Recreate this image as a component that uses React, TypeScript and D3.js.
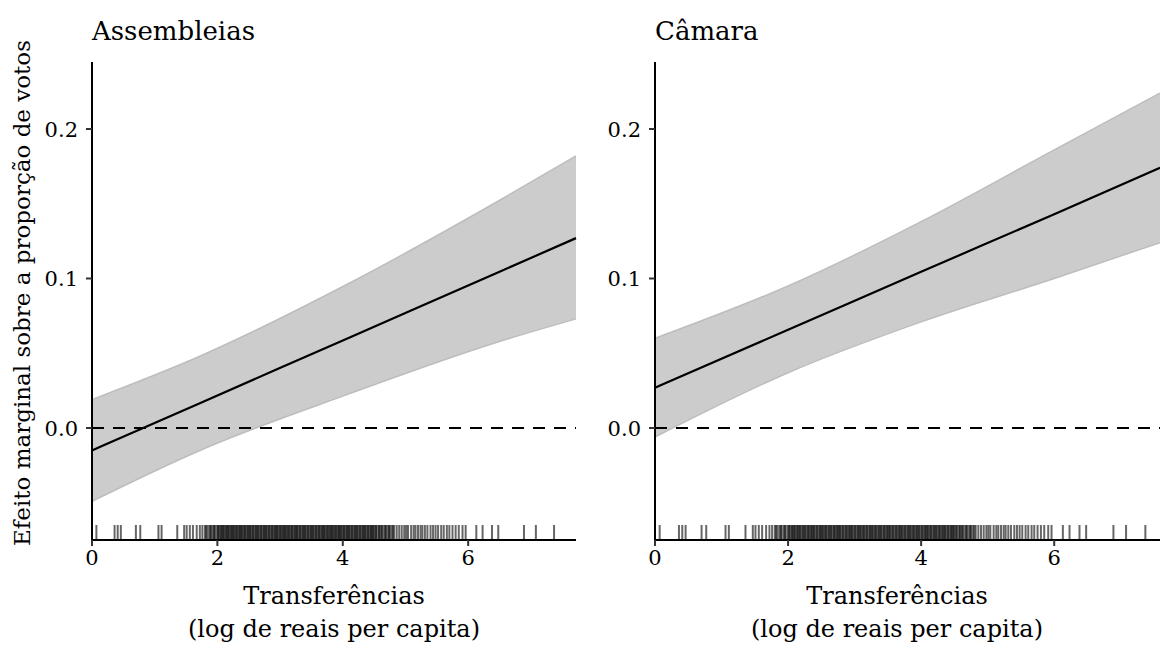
import React from 'react'
import * as d3 from 'd3'

// marginal effect estimates
const leftX = [0, 1.72, 4.11, 6.51, 7.72]
const leftFit = [-0.015, 0.0166, 0.0606, 0.1047, 0.127]
const leftUpper = [0.019, 0.048, 0.097, 0.1525, 0.182]
const leftLower = [-0.049, -0.015, 0.023, 0.058, 0.073]

const rightX = [0, 2, 4, 6, 7.59]
const rightFit = [0.027, 0.0657, 0.1045, 0.143, 0.174]
const rightUpper = [0.06, 0.095, 0.138, 0.186, 0.224]
const rightLower = [-0.006, 0.037, 0.071, 0.1, 0.124]

const yTicks = [0, 0.1, 0.2]
const xTicks = [0, 2, 4, 6]

// observed transfers (rug)
const rugX = [0.07, 0.36, 0.41, 0.46, 0.70, 0.77, 1.06, 1.11, 1.36, 1.47, 1.51, 1.56, 1.61, 1.67, 1.72, 1.76, 1.80, 1.84, 1.87, 1.90, 1.93, 1.96, 1.99, 2.02, 2.04, 2.07, 2.10, 2.12, 2.15, 2.18, 2.20, 2.23, 2.26, 2.28, 2.31, 2.33, 2.36, 2.39, 2.41, 2.44, 2.46, 2.49, 2.52, 2.54, 2.57, 2.59, 2.62, 2.65, 2.67, 2.70, 2.72, 2.75, 2.78, 2.80, 2.83, 2.85, 2.88, 2.90, 2.93, 2.96, 2.98, 3.01, 3.03, 3.06, 3.09, 3.11, 3.14, 3.16, 3.19, 3.21, 3.24, 3.27, 3.29, 3.32, 3.34, 3.37, 3.40, 3.42, 3.45, 3.47, 3.50, 3.53, 3.55, 3.58, 3.60, 3.63, 3.65, 3.68, 3.71, 3.73, 3.76, 3.78, 3.81, 3.84, 3.86, 3.89, 3.91, 3.94, 3.97, 3.99, 4.02, 4.04, 4.07, 4.10, 4.12, 4.15, 4.17, 4.20, 4.23, 4.25, 4.28, 4.30, 4.33, 4.36, 4.38, 4.41, 4.43, 4.46, 4.49, 4.51, 4.54, 4.57, 4.60, 4.63, 4.66, 4.69, 4.72, 4.75, 4.78, 4.82, 4.86, 4.90, 4.94, 4.98, 5.01, 5.04, 5.09, 5.13, 5.16, 5.20, 5.24, 5.27, 5.31, 5.35, 5.40, 5.44, 5.48, 5.52, 5.57, 5.61, 5.66, 5.70, 5.75, 5.80, 5.85, 5.91, 5.96, 6.13, 6.23, 6.38, 6.48, 6.89, 7.08, 7.37,
    1.82, 1.89, 1.95, 2.01, 2.06, 2.09, 2.14, 2.17, 2.22, 2.25, 2.30, 2.35, 2.38, 2.43, 2.48, 2.51, 2.56, 2.61, 2.64, 2.69, 2.74, 2.77, 2.82, 2.87, 2.92, 2.95, 3.00, 3.05, 3.08, 3.13, 3.18, 3.23, 3.26, 3.31, 3.36, 3.39, 3.44, 3.49, 3.52, 3.57, 3.62, 3.67, 3.70, 3.75, 3.80, 3.83, 3.88, 3.93, 3.96, 4.01, 4.06, 4.09, 4.14, 4.19, 4.22, 4.27, 4.32, 4.35, 4.40, 4.45, 4.48, 4.53, 4.58, 4.62, 4.68, 4.74, 4.80]

const W = 1160
const H = 666
const top = 62
const bottom = 540
const font = '"DejaVu Serif", serif'

const y = d3.scaleLinear().domain([-0.0749, 0.2448]).range([bottom, top])

type PanelProps = {
    title: string
    x0: number
    x1: number
    xmax: number
    xs: number[]
    fit: number[]
    upper: number[]
    lower: number[]
}

const Panel = ({ title, x0, x1, xmax, xs, fit, upper, lower }: PanelProps) => {
    const x = d3.scaleLinear().domain([0, xmax]).range([x0, x1])
    const pts = xs.map((v, i) => ({ x: v, f: fit[i], u: upper[i], l: lower[i] }))
    const area = d3.area<any>()
        .x(d => x(d.x)).y0(d => y(d.l)).y1(d => y(d.u))
        .curve(d3.curveMonotoneX)
    const upLine = d3.line<any>().x(d => x(d.x)).y(d => y(d.u)).curve(d3.curveMonotoneX)
    const loLine = d3.line<any>().x(d => x(d.x)).y(d => y(d.l)).curve(d3.curveMonotoneX)
    const fitLine = d3.line<any>().x(d => x(d.x)).y(d => y(d.f)).curve(d3.curveMonotoneX)
    // axis titles are centred on a 484px wide panel
    const cx = x0 + 242
    return (
        <g>
            <text x={x0} y={40} fontSize={26} fontFamily={font}>{title}</text>
            <path d={area(pts) || ''} fill="#cccccc" />
            <path d={upLine(pts) || ''} fill="none" stroke="#bdbdbd" strokeWidth={1.5} />
            <path d={loLine(pts) || ''} fill="none" stroke="#bdbdbd" strokeWidth={1.5} />
            <path d={fitLine(pts) || ''} fill="none" stroke="#000" strokeWidth={2.2} />
            <line x1={x0} x2={x1} y1={y(0)} y2={y(0)} stroke="#000" strokeWidth={2} strokeDasharray="12 9" />
            {rugX.map((v, i) => (
                <line key={i} x1={x(v)} x2={x(v)} y1={bottom} y2={bottom - 15}
                    stroke="#000" strokeOpacity={0.6} strokeWidth={2} />
            ))}
            <line x1={x0} x2={x0} y1={top} y2={bottom + 1} stroke="#000" strokeWidth={2} />
            <line x1={x0 - 1} x2={x1} y1={bottom} y2={bottom} stroke="#000" strokeWidth={2} />
            {yTicks.map(t => (
                <g key={t}>
                    <line x1={x0 - 6} x2={x0} y1={y(t)} y2={y(t)} stroke="#333" strokeWidth={2} />
                    <text x={x0 - 14} y={y(t)} dy="0.36em" textAnchor="end" fontSize={21} fontFamily={font}>
                        {t.toFixed(1)}
                    </text>
                </g>
            ))}
            {xTicks.map(t => (
                <g key={t}>
                    <line x1={x(t)} x2={x(t)} y1={bottom} y2={bottom + 6} stroke="#333" strokeWidth={2} />
                    <text x={x(t)} y={bottom + 25} textAnchor="middle" fontSize={21} fontFamily={font}>{t}</text>
                </g>
            ))}
            <text x={cx} y={604} textAnchor="middle" fontSize={24} fontFamily={font}>Transferências</text>
            <text x={cx} y={637} textAnchor="middle" fontSize={24} fontFamily={font}>(log de reais per capita)</text>
        </g>
    )
}

const App = () => {
    return (
        <div style={{ position: 'fixed', left: 0, top: 0 }}>
            <svg width={W} height={H} style={{ display: 'block', background: '#fff' }}>
                <text transform="translate(30, 293) rotate(-90)" textAnchor="middle"
                    fontSize={23} fontFamily={font}>Efeito marginal sobre a proporção de votos</text>
                <Panel title="Assembleias" x0={92} x1={576} xmax={7.72}
                    xs={leftX} fit={leftFit} upper={leftUpper} lower={leftLower} />
                <Panel title="Câmara" x0={655} x1={1160} xmax={7.59}
                    xs={rightX} fit={rightFit} upper={rightUpper} lower={rightLower} />
            </svg>
        </div>
    )
}

export default App
